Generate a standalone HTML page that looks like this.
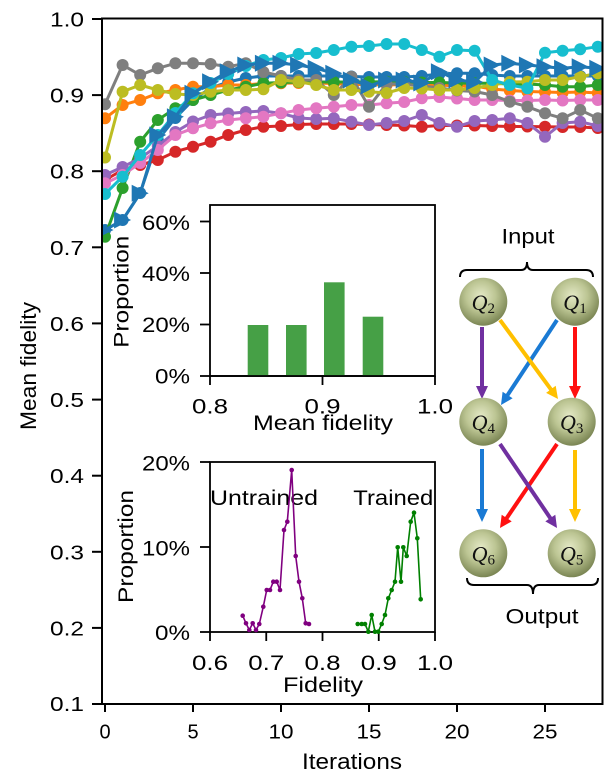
<!DOCTYPE html>
<html><head><meta charset="utf-8"><style>html,body{margin:0;padding:0;background:#fff}svg{display:block}</style></head>
<body>
<svg width="615" height="782" viewBox="0 0 615 782" xmlns="http://www.w3.org/2000/svg" font-family="'Liberation Sans', Arial, sans-serif">
<defs>
<clipPath id="cp"><rect x="102" y="18.5" width="500.5" height="685.5"/></clipPath>
<marker id="mb" markerWidth="14" markerHeight="14" refX="7" refY="7" markerUnits="userSpaceOnUse"><circle cx="7" cy="7" r="6" fill="#1f77b4"/></marker>
<marker id="mo" markerWidth="14" markerHeight="14" refX="7" refY="7" markerUnits="userSpaceOnUse"><circle cx="7" cy="7" r="6" fill="#ff7f0e"/></marker>
<marker id="mg" markerWidth="14" markerHeight="14" refX="7" refY="7" markerUnits="userSpaceOnUse"><circle cx="7" cy="7" r="6" fill="#2ca02c"/></marker>
<marker id="mr" markerWidth="14" markerHeight="14" refX="7" refY="7" markerUnits="userSpaceOnUse"><circle cx="7" cy="7" r="6" fill="#d62728"/></marker>
<marker id="mp" markerWidth="14" markerHeight="14" refX="7" refY="7" markerUnits="userSpaceOnUse"><circle cx="7" cy="7" r="6" fill="#9467bd"/></marker>
<marker id="mk" markerWidth="14" markerHeight="14" refX="7" refY="7" markerUnits="userSpaceOnUse"><circle cx="7" cy="7" r="6" fill="#e377c2"/></marker>
<marker id="my" markerWidth="14" markerHeight="14" refX="7" refY="7" markerUnits="userSpaceOnUse"><circle cx="7" cy="7" r="6" fill="#7f7f7f"/></marker>
<marker id="ml" markerWidth="14" markerHeight="14" refX="7" refY="7" markerUnits="userSpaceOnUse"><circle cx="7" cy="7" r="6" fill="#bcbd22"/></marker>
<marker id="mc" markerWidth="14" markerHeight="14" refX="7" refY="7" markerUnits="userSpaceOnUse"><circle cx="7" cy="7" r="6" fill="#17becf"/></marker>
<marker id="mt" markerWidth="18" markerHeight="18" refX="9" refY="9" markerUnits="userSpaceOnUse"><path d="M17.5,9 L0.5,0.5 L0.5,17.5 Z" fill="#1f77b4"/></marker>
<marker id="dp" markerWidth="6" markerHeight="6" refX="3" refY="3" markerUnits="userSpaceOnUse"><circle cx="3" cy="3" r="2.3" fill="#800080"/></marker>
<marker id="dg" markerWidth="6" markerHeight="6" refX="3" refY="3" markerUnits="userSpaceOnUse"><circle cx="3" cy="3" r="2.3" fill="#008000"/></marker>
<radialGradient id="ng" cx="45%" cy="38%" r="62%">
<stop offset="0" stop-color="#e4e9c6"/>
<stop offset="0.5" stop-color="#bcc593"/>
<stop offset="1" stop-color="#7a8553"/>
</radialGradient>
</defs>

<!-- main series -->
<g clip-path="url(#cp)" fill="none" stroke-width="3" stroke-linejoin="round">
<polyline stroke="#1f77b4" marker-start="url(#mb)" marker-mid="url(#mb)" marker-end="url(#mb)" points="105,230 122.6,220 140.2,193 157.8,140 175.4,118 193,100 210.6,88 228.2,82 245.8,78 263.4,76 281,76 298.6,76 316.2,76 333.8,76 351.4,76.5 369,77 386.6,77 404.2,77 421.8,76 439.4,74 457,73.3 474.6,73.3 492.2,75 509.8,76 527.4,76 545,76 562.6,76 580.2,76 597.8,76"/>
<polyline stroke="#ff7f0e" marker-start="url(#mo)" marker-mid="url(#mo)" marker-end="url(#mo)" points="105,118.3 122.6,105 140.2,100 157.8,93.3 175.4,90 193,86.7 210.6,86.7 228.2,85 245.8,85 263.4,83.3 281,83.3 298.6,83 316.2,83 333.8,83.5 351.4,84.5 369,84.5 386.6,85 404.2,84.5 421.8,85 439.4,85 457,86 474.6,86 492.2,89 509.8,90.5 527.4,91.5 545,92 562.6,92.5 580.2,92 597.8,93"/>
<polyline stroke="#2ca02c" marker-start="url(#mg)" marker-mid="url(#mg)" marker-end="url(#mg)" points="105,236.7 122.6,188 140.2,141.7 157.8,120 175.4,108.3 193,100 210.6,95 228.2,90 245.8,86.7 263.4,83.3 281,82.5 298.6,82 316.2,82 333.8,82 351.4,82 369,82 386.6,81.7 404.2,81.7 421.8,82.5 439.4,82.5 457,83 474.6,83.3 492.2,83.3 509.8,84 527.4,84 545,85 562.6,86.7 580.2,86.7 597.8,85"/>
<polyline stroke="#d62728" marker-start="url(#mr)" marker-mid="url(#mr)" marker-end="url(#mr)" points="105,180 122.6,170 140.2,165 157.8,160 175.4,151.7 193,146.7 210.6,141.7 228.2,135 245.8,130 263.4,126.7 281,126 298.6,124.5 316.2,124 333.8,124 351.4,124 369,124.5 386.6,125 404.2,125.5 421.8,126.7 439.4,125.5 457,125.5 474.6,125.5 492.2,126 509.8,126.5 527.4,126.5 545,126.7 562.6,127 580.2,127 597.8,128"/>
<polyline stroke="#9467bd" marker-start="url(#mp)" marker-mid="url(#mp)" marker-end="url(#mp)" points="105,175 122.6,167 140.2,158 157.8,146 175.4,132 193,121.5 210.6,115 228.2,113.5 245.8,112 263.4,111 281,113.3 298.6,118 316.2,119 333.8,118.3 351.4,121.7 369,125 386.6,123 404.2,121 421.8,115 439.4,123 457,126.7 474.6,121 492.2,120 509.8,118.3 527.4,123 545,136.7 562.6,123 580.2,121.7 597.8,126"/>
<polyline stroke="#e377c2" marker-start="url(#mk)" marker-mid="url(#mk)" marker-end="url(#mk)" points="105,183.3 122.6,175 140.2,163 157.8,150 175.4,135 193,128.3 210.6,123.3 228.2,120 245.8,118.3 263.4,116.7 281,113.3 298.6,110 316.2,108.3 333.8,106.7 351.4,105 369,105 386.6,103.3 404.2,102 421.8,98.3 439.4,97 457,98.5 474.6,100 492.2,100 509.8,100.5 527.4,100.5 545,100 562.6,100.5 580.2,100 597.8,100"/>
<polyline stroke="#7f7f7f" marker-start="url(#my)" marker-mid="url(#my)" marker-end="url(#my)" points="105,104.2 122.6,65 140.2,75 157.8,68.3 175.4,63.3 193,63.3 210.6,64 228.2,66.7 245.8,63.3 263.4,72 281,76 298.6,80 316.2,80 333.8,95 351.4,76.7 369,106.7 386.6,84 404.2,84 421.8,86 439.4,88 457,90.5 474.6,91.5 492.2,95 509.8,101.7 527.4,106.7 545,113.3 562.6,118.3 580.2,110 597.8,118.3"/>
<polyline stroke="#bcbd22" marker-start="url(#ml)" marker-mid="url(#ml)" marker-end="url(#ml)" points="105,157.5 122.6,91.7 140.2,85 157.8,90 175.4,94 193,95 210.6,91.7 228.2,90 245.8,90 263.4,89.3 281,80 298.6,81.7 316.2,85 333.8,90 351.4,90 369,91.7 386.6,93 404.2,88 421.8,88.5 439.4,90 457,90 474.6,88 492.2,85 509.8,82 527.4,81.7 545,80 562.6,80 580.2,76.7 597.8,73.3"/>
<polyline stroke="#17becf" marker-start="url(#mc)" marker-mid="url(#mc)" marker-end="url(#mc)" points="105,194 122.6,176.7 140.2,155 157.8,135 175.4,113 193,93.3 210.6,83 228.2,74 245.8,66 263.4,60 281,58 298.6,54 316.2,53 333.8,50 351.4,46.7 369,46 386.6,44 404.2,44 421.8,50 439.4,56.7 457,50 474.6,50.7 492.2,80 509.8,85 527.4,88.3 545,52.7 562.6,50.7 580.2,49.3 597.8,46.7"/>
<polyline stroke="#1f77b4" marker-start="url(#mt)" marker-mid="url(#mt)" marker-end="url(#mt)" points="105,230 122.6,220 140.2,193.3 157.8,135 175.4,116.7 193,93.3 210.6,81.7 228.2,71.7 245.8,65 263.4,63.3 281,63.3 298.6,65 316.2,68.3 333.8,73.3 351.4,80 369,86 386.6,80 404.2,80 421.8,83 439.4,71.7 457,80 474.6,82 492.2,65 509.8,63.3 527.4,65 545,66.7 562.6,68.3 580.2,66.7 597.8,68.3"/>
</g>

<!-- main frame & ticks -->
<rect x="102" y="18.5" width="500.5" height="685.5" fill="none" stroke="#000" stroke-width="2"/>
<g stroke="#000" stroke-width="2">
<line x1="92" y1="19" x2="102" y2="19"/><line x1="92" y1="95.1" x2="102" y2="95.1"/><line x1="92" y1="171.2" x2="102" y2="171.2"/><line x1="92" y1="247.3" x2="102" y2="247.3"/><line x1="92" y1="323.4" x2="102" y2="323.4"/><line x1="92" y1="399.6" x2="102" y2="399.6"/><line x1="92" y1="475.7" x2="102" y2="475.7"/><line x1="92" y1="551.8" x2="102" y2="551.8"/><line x1="92" y1="627.9" x2="102" y2="627.9"/><line x1="92" y1="704" x2="102" y2="704"/>
<line x1="105" y1="704" x2="105" y2="712"/><line x1="193" y1="704" x2="193" y2="712"/><line x1="281" y1="704" x2="281" y2="712"/><line x1="369" y1="704" x2="369" y2="712"/><line x1="457" y1="704" x2="457" y2="712"/><line x1="545" y1="704" x2="545" y2="712"/>
</g>
<g font-size="20" fill="#000" text-anchor="end">
<text x="84" y="26.5" textLength="34" lengthAdjust="spacingAndGlyphs">1.0</text>
<text x="84" y="102.6" textLength="34" lengthAdjust="spacingAndGlyphs">0.9</text>
<text x="84" y="178.7" textLength="34" lengthAdjust="spacingAndGlyphs">0.8</text>
<text x="84" y="254.8" textLength="34" lengthAdjust="spacingAndGlyphs">0.7</text>
<text x="84" y="330.9" textLength="34" lengthAdjust="spacingAndGlyphs">0.6</text>
<text x="84" y="407.1" textLength="34" lengthAdjust="spacingAndGlyphs">0.5</text>
<text x="84" y="483.2" textLength="34" lengthAdjust="spacingAndGlyphs">0.4</text>
<text x="84" y="559.3" textLength="34" lengthAdjust="spacingAndGlyphs">0.3</text>
<text x="84" y="635.4" textLength="34" lengthAdjust="spacingAndGlyphs">0.2</text>
<text x="84" y="711.2" textLength="34" lengthAdjust="spacingAndGlyphs">0.1</text>
</g>
<g font-size="20" fill="#000" text-anchor="middle">
<text x="105" y="738.5">0</text>
<text x="193" y="738.5">5</text>
<text x="281" y="738.5" textLength="25" lengthAdjust="spacingAndGlyphs">10</text>
<text x="369" y="738.5" textLength="25" lengthAdjust="spacingAndGlyphs">15</text>
<text x="457" y="738.5" textLength="25" lengthAdjust="spacingAndGlyphs">20</text>
<text x="545" y="738.5" textLength="25" lengthAdjust="spacingAndGlyphs">25</text>
</g>
<text x="352" y="769" font-size="22" text-anchor="middle" textLength="100" lengthAdjust="spacingAndGlyphs">Iterations</text>
<text transform="translate(36,366) rotate(-90)" font-size="22" text-anchor="middle" textLength="128" lengthAdjust="spacingAndGlyphs">Mean fidelity</text>

<!-- inset 1: histogram -->
<rect x="210" y="205" width="225" height="171" fill="#fff" stroke="#000" stroke-width="1.8"/>
<g fill="#46a046">
<rect x="247.7" y="325" width="20.6" height="51"/>
<rect x="286" y="325" width="20.6" height="51"/>
<rect x="324" y="282.3" width="20.6" height="93.7"/>
<rect x="362.7" y="316.7" width="20.6" height="59.3"/>
</g>
<line x1="210" y1="376" x2="435" y2="376" stroke="#000" stroke-width="1.8"/>
<g stroke="#000" stroke-width="1.8">
<line x1="200" y1="376" x2="210" y2="376"/><line x1="200" y1="324.5" x2="210" y2="324.5"/><line x1="200" y1="273" x2="210" y2="273"/><line x1="200" y1="221.5" x2="210" y2="221.5"/>
<line x1="210" y1="376" x2="210" y2="385"/><line x1="322.5" y1="376" x2="322.5" y2="385"/><line x1="435" y1="376" x2="435" y2="385"/>
</g>
<g font-size="21" text-anchor="end">
<text x="190" y="383.5" textLength="35" lengthAdjust="spacingAndGlyphs">0%</text>
<text x="190" y="332" textLength="48" lengthAdjust="spacingAndGlyphs">20%</text>
<text x="190" y="281" textLength="48" lengthAdjust="spacingAndGlyphs">40%</text>
<text x="190" y="230" textLength="48" lengthAdjust="spacingAndGlyphs">60%</text>
</g>
<g font-size="21" text-anchor="middle">
<text x="210" y="413.5" textLength="36" lengthAdjust="spacingAndGlyphs">0.8</text>
<text x="322.5" y="413.5" textLength="36" lengthAdjust="spacingAndGlyphs">0.9</text>
<text x="435" y="413.5" textLength="36" lengthAdjust="spacingAndGlyphs">1.0</text>
<text x="323" y="430" textLength="140" lengthAdjust="spacingAndGlyphs">Mean fidelity</text>
</g>
<text transform="translate(128.5,291.7) rotate(-90)" font-size="21" text-anchor="middle" textLength="112" lengthAdjust="spacingAndGlyphs">Proportion</text>

<!-- inset 2: fidelity distribution -->
<rect x="210" y="462" width="225" height="170" fill="#fff" stroke="#000" stroke-width="1.8"/>
<g stroke="#000" stroke-width="1.8">
<line x1="200" y1="632" x2="210" y2="632"/><line x1="200" y1="547" x2="210" y2="547"/><line x1="200" y1="462" x2="210" y2="462"/>
<line x1="210" y1="632" x2="210" y2="641"/><line x1="266.25" y1="632" x2="266.25" y2="641"/><line x1="322.5" y1="632" x2="322.5" y2="641"/><line x1="378.75" y1="632" x2="378.75" y2="641"/><line x1="435" y1="632" x2="435" y2="641"/>
</g>
<g font-size="21.5">
<text x="210" y="505" textLength="108" lengthAdjust="spacingAndGlyphs">Untrained</text>
<text x="353.3" y="505" textLength="80" lengthAdjust="spacingAndGlyphs">Trained</text>
</g>
<polyline fill="none" stroke="#800080" stroke-width="1.6" stroke-linejoin="round" marker-start="url(#dp)" marker-mid="url(#dp)" marker-end="url(#dp)" points="242.7,615.7 246,623.3 249.3,630 252.7,623.3 256,630 259.3,624 263.3,606.7 266.7,590 270,590 273.3,581.7 276.7,581.7 280,590 284,530 287.3,521.7 291.7,470 295.7,556 299,581.7 302.3,598.3 305.7,623.3 309,624"/>
<polyline fill="none" stroke="#008000" stroke-width="1.6" stroke-linejoin="round" marker-start="url(#dg)" marker-mid="url(#dg)" marker-end="url(#dg)" points="357.7,624 361.7,624 365,624 368.3,631.7 371.7,615 375,631.7 378.3,631.7 381.7,624 385,615 388.3,598.3 391.7,590 395,581.7 397.7,547.3 401,581.7 403.3,547.3 406.7,556 410.7,521.7 414,512.7 417.3,538.3 420.7,599.3"/>
<g font-size="21" text-anchor="end">
<text x="190" y="640" textLength="35" lengthAdjust="spacingAndGlyphs">0%</text>
<text x="190" y="555.5" textLength="48" lengthAdjust="spacingAndGlyphs">10%</text>
<text x="190" y="470.5" textLength="48" lengthAdjust="spacingAndGlyphs">20%</text>
</g>
<g font-size="21" text-anchor="middle">
<text x="210" y="670" textLength="36" lengthAdjust="spacingAndGlyphs">0.6</text>
<text x="266.25" y="670" textLength="36" lengthAdjust="spacingAndGlyphs">0.7</text>
<text x="322.5" y="670" textLength="36" lengthAdjust="spacingAndGlyphs">0.8</text>
<text x="378.75" y="670" textLength="36" lengthAdjust="spacingAndGlyphs">0.9</text>
<text x="435" y="670" textLength="36" lengthAdjust="spacingAndGlyphs">1.0</text>
<text x="323" y="692" textLength="80" lengthAdjust="spacingAndGlyphs">Fidelity</text>
</g>
<text transform="translate(133,546.5) rotate(-90)" font-size="21" text-anchor="middle" textLength="113" lengthAdjust="spacingAndGlyphs">Proportion</text>

<!-- network diagram -->
<text x="528" y="243.3" font-size="21" text-anchor="middle" textLength="53" lengthAdjust="spacingAndGlyphs">Input</text>
<path d="M460,277 Q460,270 467,270 L521,270 Q527,270 527,262 Q527,270 533,270 L586,270 Q593,270 593,277" fill="none" stroke="#000" stroke-width="2"/>
<path d="M467,578 Q467,585 474,585 L527,585 Q533,585 533,594 Q533,585 539,585 L591,585 Q598,585 598,578" fill="none" stroke="#000" stroke-width="2"/>
<text x="542" y="623.3" font-size="21" text-anchor="middle" textLength="73" lengthAdjust="spacingAndGlyphs">Output</text>

<g stroke-width="4" fill="none">
<line x1="482" y1="327" x2="482" y2="389" stroke="#7030a0"/>
<line x1="575" y1="327" x2="575" y2="389" stroke="#ff1010"/>
<line x1="557" y1="320" x2="506.5" y2="396.7" stroke="#1a7ad4"/>
<line x1="500" y1="320" x2="552.1" y2="391" stroke="#ffc000"/>
<line x1="482" y1="449" x2="482" y2="512" stroke="#1a7ad4"/>
<line x1="575" y1="450" x2="575" y2="512" stroke="#ffc000"/>
<line x1="557" y1="444" x2="505.6" y2="519.7" stroke="#ff1010"/>
<line x1="500" y1="444" x2="551.4" y2="519.7" stroke="#7030a0"/>
</g>
<polygon points="482,399 476,386 488,386" fill="#7030a0"/>
<polygon points="575,399 569,386 581,386" fill="#ff1010"/>
<polygon points="501,405 502.6,391.7 512.6,398.3" fill="#1a7ad4"/>
<polygon points="558,399 546.1,392.9 555.7,385.8" fill="#ffc000"/>
<polygon points="482,522 476,509 488,509" fill="#1a7ad4"/>
<polygon points="575,522 569,509 581,509" fill="#ffc000"/>
<polygon points="500,528 501.7,514.7 511.7,521.4" fill="#ff1010"/>
<polygon points="557,528 545.3,521.4 555.3,514.7" fill="#7030a0"/>

<g fill="url(#ng)">
<circle cx="483.3" cy="301.7" r="24"/>
<circle cx="575" cy="301.7" r="24"/>
<circle cx="483.3" cy="421.7" r="24"/>
<circle cx="571.7" cy="421.7" r="24"/>
<circle cx="483.3" cy="553.3" r="24"/>
<circle cx="571.7" cy="553.3" r="24"/>
</g>
<g font-family="'Liberation Serif', 'DejaVu Serif', serif" font-size="22" text-anchor="middle" fill="#111">
<text x="483.3" y="310"><tspan font-style="italic">Q</tspan><tspan font-size="15" dy="3">2</tspan></text>
<text x="575" y="310"><tspan font-style="italic">Q</tspan><tspan font-size="15" dy="3">1</tspan></text>
<text x="483.3" y="430"><tspan font-style="italic">Q</tspan><tspan font-size="15" dy="3">4</tspan></text>
<text x="571.7" y="430"><tspan font-style="italic">Q</tspan><tspan font-size="15" dy="3">3</tspan></text>
<text x="483.3" y="561.5"><tspan font-style="italic">Q</tspan><tspan font-size="15" dy="3">6</tspan></text>
<text x="571.7" y="561.5"><tspan font-style="italic">Q</tspan><tspan font-size="15" dy="3">5</tspan></text>
</g>
</svg>
</body></html>
